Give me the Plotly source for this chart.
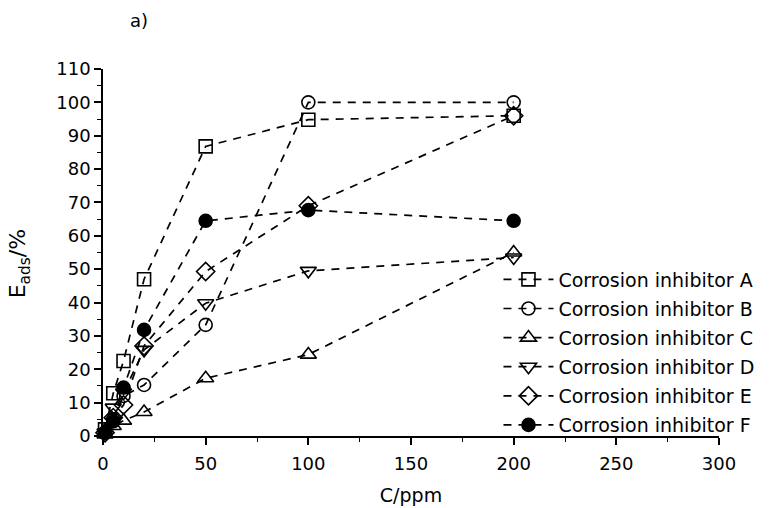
import plotly.graph_objects as go

conc = [1, 5, 10, 20, 50, 100, 200]
names = ["Corrosion inhibitor A", "Corrosion inhibitor B", "Corrosion inhibitor C",
         "Corrosion inhibitor D", "Corrosion inhibitor E", "Corrosion inhibitor F"]
eff_A = [2, 12.8, 22.5, 47, 86.8, 94.8, 96]
eff_B = [1, 5, 12, 15.3, 33.3, 100, 100]
eff_C = [0.5, 3, 4.6, 7.2, 17.3, 24.4, 55]
eff_D = [1, 8.5, 13, 25.8, 39.8, 49.5, 53.5]
eff_E = [1, 5.5, 9.3, 27, 49.3, 69, 96]
eff_F = [1, 4.4, 14.5, 31.8, 64.5, 67.7, 64.5]

series = [eff_A, eff_B, eff_C, eff_D, eff_E, eff_F]
symbols = ["square-open", "circle-open", "triangle-up-open", "triangle-down-open",
           "diamond-open", "circle"]
sizes = [13, 13, 14, 14, 14, 13]

FONT = "DejaVu Sans"

fig = go.Figure()
for i, (nm, ys) in enumerate(zip(names, series)):
    fig.add_trace(go.Scatter(
        x=conc, y=ys, name=nm, mode="lines+markers", legendgroup=nm,
        cliponaxis=False,
        line=dict(color="black", width=1.7, dash="8px,7px"),
        marker=dict(symbol=symbols[i], size=sizes[i], color="black",
                    line=dict(color="black", width=1.6)),
    ))

axis_common = dict(
    showline=True, linecolor="black", linewidth=1.6, mirror=False,
    showgrid=False, zeroline=False, automargin=False,
    ticks="outside", ticklen=7, tickwidth=1.6, tickcolor="black",
    tickfont=dict(family=FONT, size=18, color="black"),
)

fig.update_xaxes(range=[0, 300], dtick=50, tick0=0, ticklabelstandoff=4,
                 minor=dict(dtick=25, ticks="outside", ticklen=4, tickwidth=1.4, tickcolor="black"),
                 title=dict(text="C/ppm", font=dict(family=FONT, size=19, color="black")),
                 **axis_common)
fig.update_yaxes(range=[0, 110], dtick=10, tick0=0,
                 minor=dict(dtick=5, ticks="outside", ticklen=4, tickwidth=1.4, tickcolor="black"),
                 **axis_common)

fig.add_annotation(text="E<sub>ads</sub>/%", xref="paper", yref="paper", x=-0.135, y=0.47,
                   textangle=-90, showarrow=False, xanchor="center", yanchor="middle",
                   font=dict(family=FONT, size=22, color="black"))
fig.add_annotation(text="a)", xref="paper", yref="paper", x=0.04, y=1.165,
                   showarrow=False, font=dict(family=FONT, size=18, color="black"))

fig.update_layout(
    width=780, height=508,
    margin=dict(l=103, r=61, t=69, b=72),
    paper_bgcolor="white", plot_bgcolor="white",
    font=dict(family=FONT, color="black"),
    legend=dict(x=0.642, y=0.478, xanchor="left", yanchor="top",
                bgcolor="rgba(0,0,0,0)", itemwidth=50, tracegroupgap=1.4,
                font=dict(family=FONT, size=19, color="black")),
)

fig.write_html("out.html")
